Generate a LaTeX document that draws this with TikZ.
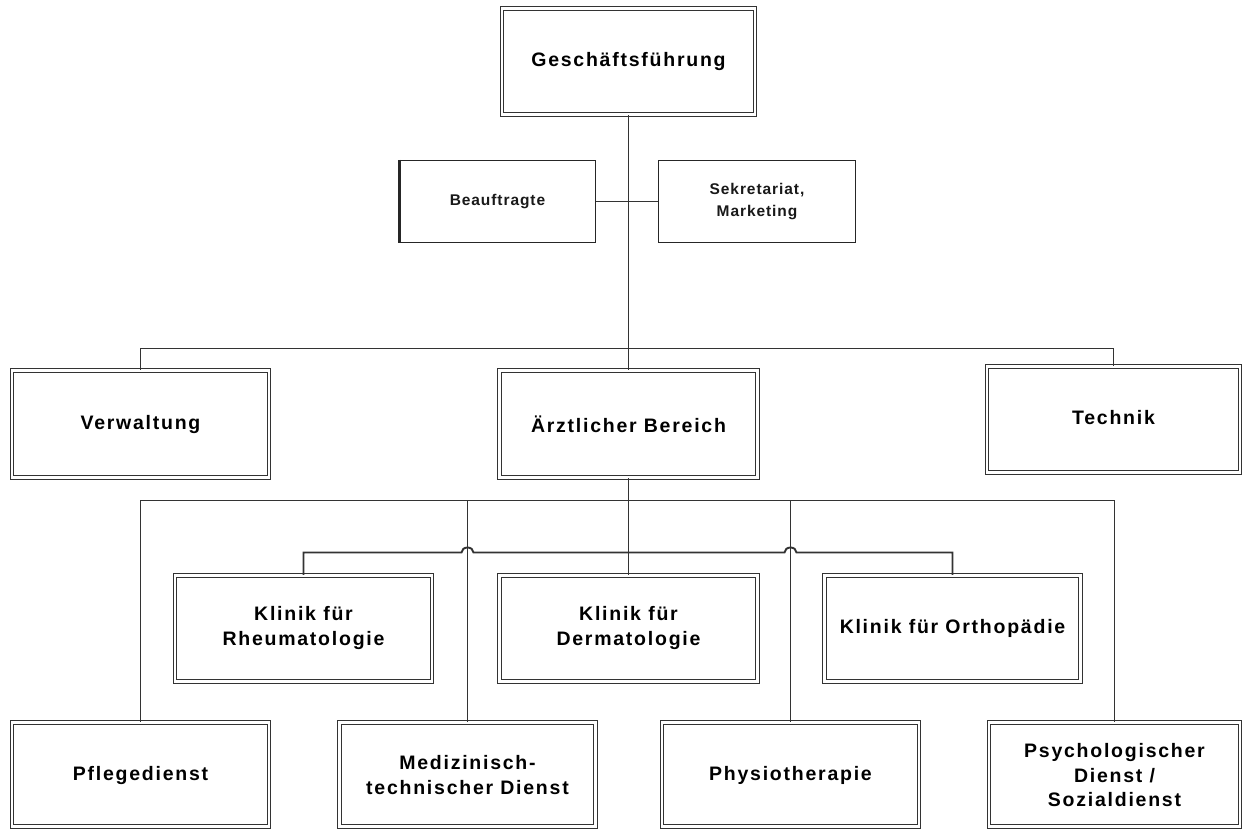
\documentclass[tikz,border=0pt]{standalone}
\usepackage{fontspec}
\setmainfont{Liberation Sans}[LetterSpace=9]
\newfontfamily\smallfont{Liberation Sans}[LetterSpace=6]
\begin{document}
\begin{tikzpicture}[x=1pt,y=-1pt,
  ln/.style={draw=black!80, line width=1.9pt},
  dbox/.style={draw=black!80, double, double distance=2.6pt, line width=1.1pt, inner sep=0pt},
  sbox/.style={draw=black!85, line width=1.3pt, inner sep=0pt},
  txt/.style={align=center, font=\bfseries\fontsize{19.5}{25}\selectfont, text=black},
  stxt/.style={align=center, font=\smallfont\bfseries\fontsize{15.5}{22}\selectfont, text=black!90}
]
\useasboundingbox (0,0) rectangle (1243,829);
\clip (0,0) rectangle (1243,829);
\fill[white] (0,0) rectangle (1243,829);

% boxes
\node[dbox, minimum width=253, minimum height=106, label={[txt]center:Geschäftsführung}] (gf) at (628.5,61.5) {};
\node[sbox, minimum width=196, minimum height=82, label={[stxt]center:Beauftragte}] (beauf) at (497.5,201.5) {};
\node[sbox, minimum width=197, minimum height=82, label={[stxt]center:{Sekretariat,\\Marketing}}] (sekr) at (757,201.5) {};
\draw[black!85, line width=2.4pt] ([xshift=0.6pt]beauf.north west) -- ([xshift=0.6pt]beauf.south west);

\node[dbox, minimum width=257, minimum height=107, label={[txt]center:Verwaltung}] (verw) at (140.5,424) {};
\node[dbox, minimum width=258, minimum height=107, label={[txt]center:Ärztlicher Bereich}] (aerzt) at (628.5,424) {};
\node[dbox, minimum width=253, minimum height=106, label={[txt, yshift=2pt]center:Technik}] (tech) at (1113.5,419.5) {};

\node[dbox, minimum width=257, minimum height=106, label={[txt, yshift=1pt]center:{Klinik für\\Rheumatologie}}] (rheuma) at (303.5,628.5) {};
\node[dbox, minimum width=258, minimum height=106, label={[txt, yshift=1pt]center:{Klinik für\\Dermatologie}}] (derma) at (628.5,628.5) {};
\node[dbox, minimum width=256, minimum height=106, label={[txt]center:Klinik für Orthopädie}] (ortho) at (952.5,628.5) {};

\node[dbox, minimum width=257, minimum height=104, label={[txt, yshift=-1pt]center:Pflegedienst}] (pflege) at (140.5,774.5) {};
\node[dbox, minimum width=256, minimum height=104, label={[txt, yshift=-1pt]center:{Medizinisch-\\technischer Dienst}}] (medi) at (467.5,774.5) {};
\node[dbox, minimum width=257, minimum height=104, label={[txt, yshift=-1pt]center:Physiotherapie}] (physio) at (790.5,774.5) {};
\node[dbox, minimum width=251, minimum height=104, label={[txt, yshift=-1pt, font=\bfseries\fontsize{19.5}{24.5}\selectfont]center:{Psychologischer\\Dienst /\\Sozialdienst}}] (psych) at (1114.5,774.5) {};

% connectors
\coordinate (b1) at (628.5,348.5);
\coordinate (b2) at (628.5,500.5);
\coordinate (b3) at (628.5,552.5);
\coordinate (j1) at (medi.north |- b3);
\coordinate (j2) at (physio.north |- b3);
\draw[ln] (gf.south) -- (aerzt.north);
\draw[ln] (beauf.east) -- (sekr.west);
\draw[ln] (verw.north) |- (b1) -| (tech.north);
\draw[ln] (aerzt.south) -- (derma.north);
\draw[ln] (pflege.north) |- (b2) -| (psych.north);
\draw[ln] (medi.north) -- (medi.north |- b2);
\draw[ln] (physio.north) -- (physio.north |- b2);
\draw[ln] (rheuma.north) |- ([xshift=-6pt]j1) arc[start angle=180, end angle=0, x radius=6pt, y radius=5pt]
  -- ([xshift=-6pt]j2) arc[start angle=180, end angle=0, x radius=6pt, y radius=5pt] -| (ortho.north);
\end{tikzpicture}
\end{document}
